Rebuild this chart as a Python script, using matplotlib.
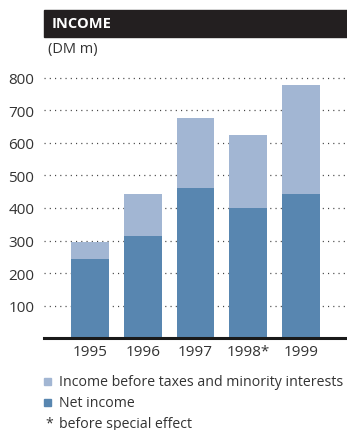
import matplotlib
matplotlib.use("Agg")
import matplotlib.pyplot as plt
from matplotlib.patches import Rectangle

years = ["1995", "1996", "1997", "1998*", "1999"]
income_before_taxes = [296, 442, 676, 623, 777]
net_income = [243, 314, 461, 400, 442]
yticks = [100, 200, 300, 400, 500, 600, 700, 800]
ytick_labels = ["100", "200", "300", "400", "500", "600", "700", "800"]

LIGHT = "#A2B6D3"
DARK = "#5886B0"
TXT = "#333333"

plt.rcParams['font.family'] = ['Open Sans', 'DejaVu Sans']

W, H = 347, 431
fig = plt.figure(figsize=(W / 100, H / 100), dpi=100)

ax = fig.add_axes([44 / W, 1 - 339.3 / H, 1 - 44 / W, (339.3 - 78.7) / H])
x = list(range(len(years)))
ax.bar(x, income_before_taxes, width=0.72, color=LIGHT, zorder=2)
ax.bar(x, net_income, width=0.72, color=DARK, zorder=3)
ax.set_xlim(-0.872, 4.872)
ax.set_ylim(0, 800)
for s in ax.spines.values():
    s.set_visible(False)
ax.axhline(0, color="#1a1a1a", lw=2.2, zorder=4, clip_on=False)
for yv in yticks:
    ax.axhline(yv, color="#444444", lw=0.9, linestyle=(0, (0.9, 3.3)), zorder=1, clip_on=False)
ax.set_yticks(yticks)
ax.set_yticklabels(ytick_labels, fontsize=11, color=TXT)
ax.set_xticks(x)
ax.set_xticklabels(years, fontsize=11, color=TXT)
ax.tick_params(axis="both", length=0)
ax.tick_params(axis="y", pad=7)
ax.tick_params(axis="x", pad=4)

# Title bar
fig.patches.append(Rectangle((44 / W, 1 - 38 / H), 1 - 44 / W, 27 / H,
                             transform=fig.transFigure, color="#231f20", zorder=0))
fig.text(52 / W, 1 - 24.5 / H, "INCOME", color="white", fontsize=10.5,
         fontweight="bold", va="center", ha="left")
fig.text(48 / W, 1 - 49 / H, "(DM m)", color=TXT, fontsize=10.5, va="center", ha="left")

# Legend
fig.patches.append(Rectangle((44 / W, 1 - 385.5 / H), 6.5 / W, 6.5 / H,
                             transform=fig.transFigure, color=LIGHT))
fig.text(59 / W, 1 - 383 / H, "Income before taxes and minority interests", color=TXT,
         fontsize=10.2, va="center", ha="left")
fig.patches.append(Rectangle((44 / W, 1 - 406.5 / H), 6.5 / W, 6.5 / H,
                             transform=fig.transFigure, color=DARK))
fig.text(59 / W, 1 - 404 / H, "Net income", color=TXT,
         fontsize=10.2, va="center", ha="left")
fig.text(45 / W, 1 - 424 / H, "*", color=TXT, fontsize=10.2, va="center", ha="left")
fig.text(59 / W, 1 - 424.5 / H, "before special effect", color=TXT,
         fontsize=10.2, va="center", ha="left")

fig.savefig("out.png", dpi=100)
